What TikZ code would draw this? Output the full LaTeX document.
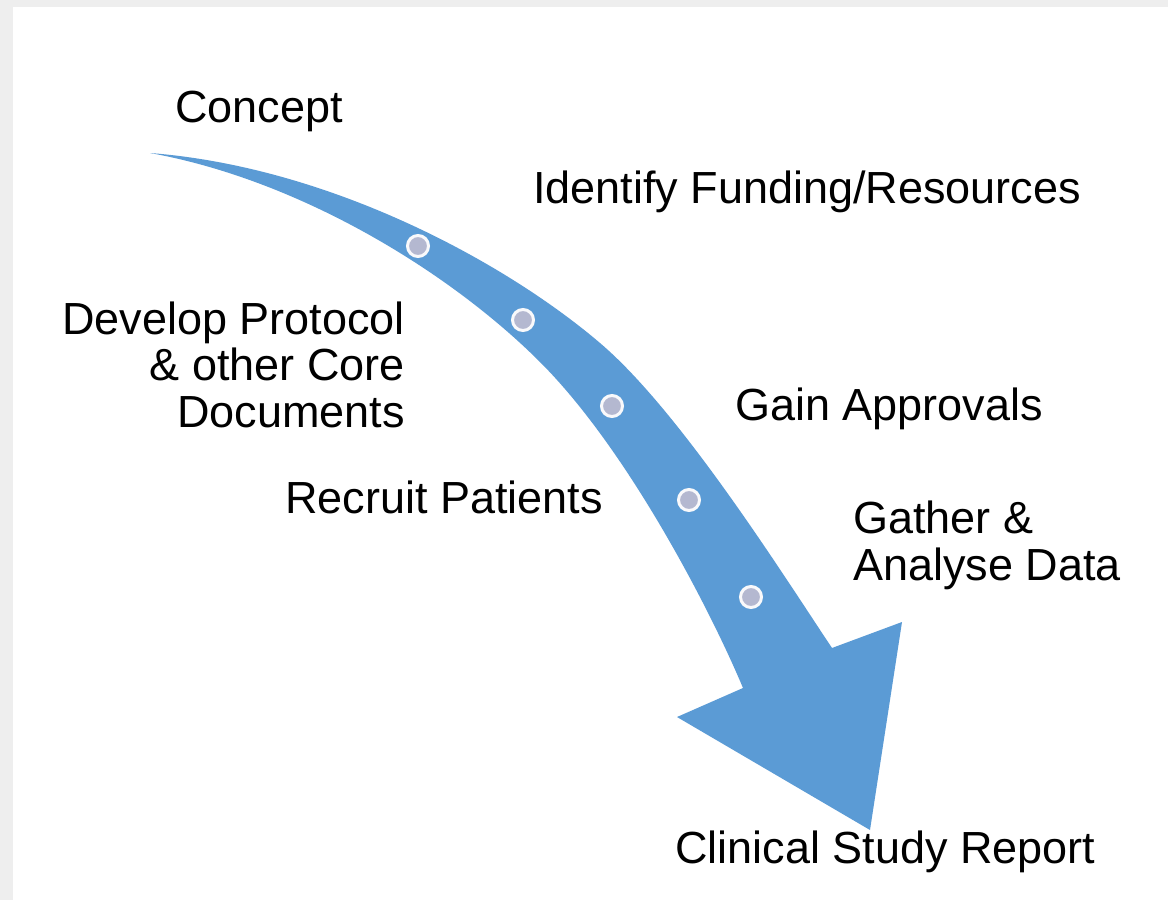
\documentclass[tikz,border=0pt]{standalone}
\usepackage{fontspec}
\setmainfont{Liberation Sans}
\definecolor{framegray}{HTML}{EEEEEE}
\definecolor{arrowblue}{HTML}{5B9BD5}
\definecolor{dotfill}{RGB}{180,184,208}
\begin{document}
\begin{tikzpicture}[x=1pt,y=-1pt,
  lbl/.style={font=\fontsize{45}{46.5}\selectfont, inner sep=0pt},
  dotc/.style={circle, minimum size=21pt, inner sep=0pt, fill=dotfill, draw=white!92!dotfill, line width=3pt}]
\useasboundingbox (0,0) rectangle (1168,900);
\fill[framegray] (0,0) rectangle (1168,900);
\fill[white] (13,7) rectangle (1168,900);
% curved arrow
\fill[arrowblue]
  (150,153) .. controls (330,167) and (505,262) .. (600,343)
            .. controls (680,411) and (782,573) .. (832,648)
  -- (902,622) -- (870,830) -- (677,717) -- (743,688)
            .. controls (713,616) and (630,452) .. (540,362)
            .. controls (450,272) and (300,180) .. (150,153)
  -- cycle;
% dots
\node[dotc] (d1) at (418,246) {};
\node[dotc] (d2) at (523,320) {};
\node[dotc] (d3) at (612,406) {};
\node[dotc] (d4) at (689,500) {};
\node[dotc] (d5) at (751,597) {};
% labels
\node[lbl, anchor=base west] (concept) at (175,122) {Concept};
\node[lbl, anchor=base west] (fund) at (533,203) {Identify Funding/Resources};
\node[lbl, anchor=base east, align=right] (proto) at (405,427) {Develop Protocol\\ \& other Core\\ Documents};
\node[lbl, anchor=base west] (gain) at (735,420) {Gain Approvals};
\node[lbl, anchor=base west] (recruit) at (285,513) {Recruit Patients};
\node[lbl, anchor=base west, align=left] (gather) at (853,580) {Gather \&\\ Analyse Data};
\node[lbl, anchor=base west] (csr) at (675,863) {Clinical Study Report};
\end{tikzpicture}
\end{document}
